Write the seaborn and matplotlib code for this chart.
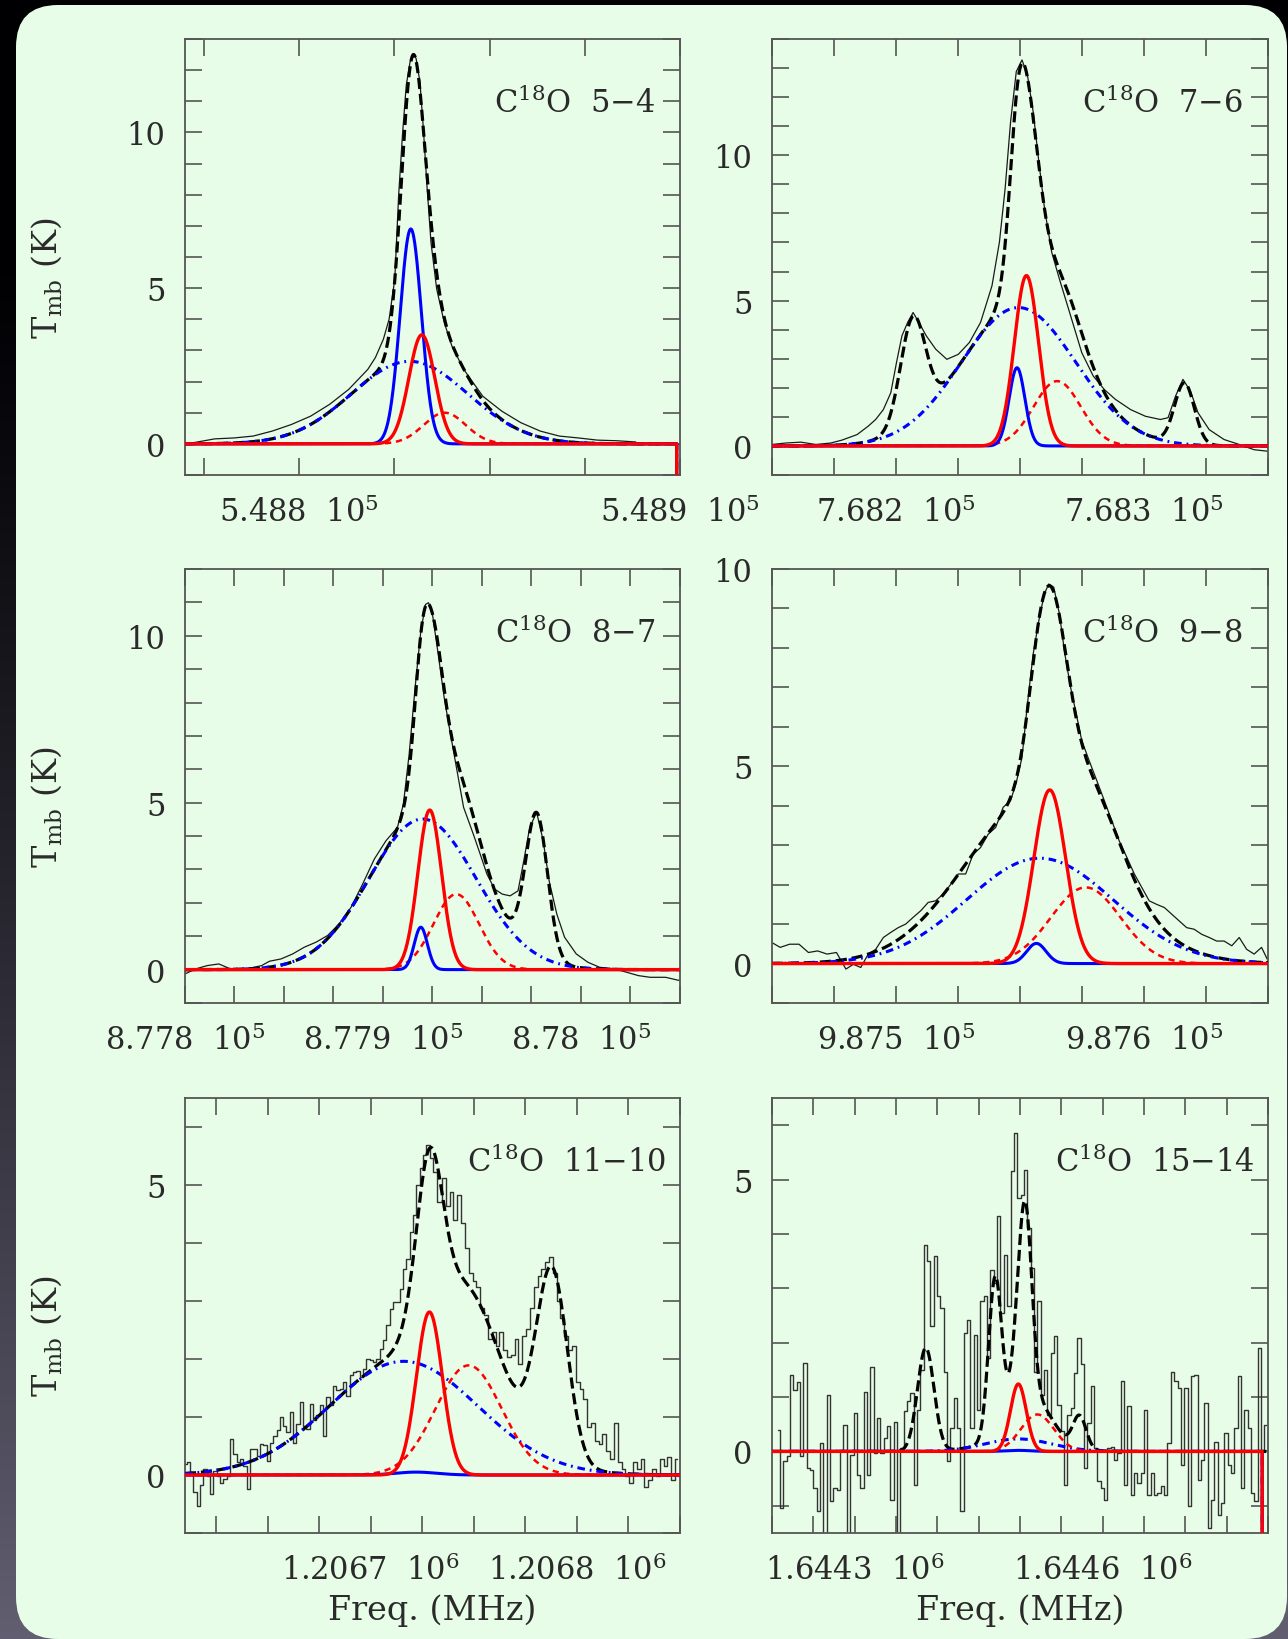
import numpy as np
import matplotlib
matplotlib.use("Agg")
import matplotlib.pyplot as plt
from matplotlib.patches import FancyBboxPatch
import seaborn as sns

# ---------------- observed spectra: frequency (MHz) and Tmb (K) ----------------
f54 = 548000 + np.array([770.0, 772.8, 777.8, 782.9, 787.9, 792.9, 797.9, 803.0, 808.0, 813.0,
                         818.0, 820.0, 822.1, 823.6, 825.1, 826.1, 827.1, 828.1, 829.1, 830.0,
                         830.7, 831.7, 832.6, 833.6, 834.6, 836.1, 838.1, 840.1, 843.2, 848.2,
                         853.2, 858.2, 863.3, 868.3, 873.3, 878.3, 883.4, 888.4])
t54 = [0.0, 0.05, 0.16, 0.19, 0.25, 0.41, 0.62, 0.89, 1.27, 1.75,
       2.39, 2.77, 3.36, 4.00, 5.29, 7.97, 9.90, 11.51, 12.26, 12.53,
       12.37, 11.62, 10.12, 8.19, 6.47, 4.97, 3.89, 3.14, 2.39, 1.53,
       1.05, 0.68, 0.41, 0.25, 0.19, 0.12, 0.10, 0.06]

f76 = 768000 + np.array([150.0, 155.6, 161.6, 167.7, 173.7, 178.2, 184.3, 188.8, 191.8, 194.9,
                         197.9, 200.2, 202.4, 204.7, 206.9, 209.2, 212.2, 216.0, 220.5, 225.1,
                         229.6, 234.1, 238.7, 241.7, 244.0, 246.2, 248.5, 250.8, 253.0, 255.3,
                         257.6, 259.9, 262.8, 265.9, 270.4, 274.9, 279.5, 284.0, 288.5, 294.6,
                         300.6, 306.6, 309.7, 312.7, 315.7, 318.7, 321.8, 326.3, 332.3, 338.4,
                         344.4, 349.7])
t76 = [0.05, 0.10, 0.13, 0.05, 0.10, 0.20, 0.39, 0.68, 0.91, 1.25,
       1.83, 2.87, 3.79, 4.25, 4.59, 4.25, 3.79, 3.33, 2.98, 3.15,
       3.56, 4.25, 5.51, 7.01, 8.85, 11.15, 12.88, 13.28, 12.76, 11.50,
       9.77, 8.16, 6.66, 5.74, 4.48, 3.21, 2.41, 1.94, 1.60, 1.25,
       1.02, 0.91, 0.97, 1.71, 2.29, 1.89, 1.14, 0.56, 0.22, 0.05,
       -0.13, -0.18]

f87 = 877000 + np.array([800.0, 805.3, 811.2, 817.1, 823.0, 830.8, 838.7, 842.6, 848.5, 854.4,
                         860.2, 866.1, 872.0, 877.9, 883.8, 889.7, 895.6, 901.5, 907.3, 910.3,
                         913.2, 916.2, 919.1, 921.5, 923.0, 925.0, 927.9, 930.9, 933.8, 936.8,
                         940.7, 945.6, 948.5, 952.5, 956.4, 960.3, 964.2, 968.2, 971.1, 974.1,
                         977.6, 980.9, 983.9, 987.8, 991.7, 997.6, 1003.5, 1009.4, 1017.2, 1023.1,
                         1029.0, 1034.9, 1042.7, 1050.0])
t87 = [-0.13, 0.02, 0.12, 0.17, 0.02, 0.02, 0.12, 0.25, 0.32, 0.47,
       0.67, 0.82, 1.02, 1.37, 1.86, 2.56, 3.31, 3.86, 4.26, 4.96,
       6.45, 8.44, 10.14, 10.94, 10.99, 10.64, 9.44, 8.15, 7.15, 6.15,
       4.86, 4.06, 3.56, 2.86, 2.41, 2.26, 2.21, 2.36, 3.26, 4.26,
       4.71, 3.86, 2.66, 1.66, 0.97, 0.47, 0.22, 0.07, 0.02, -0.08,
       -0.18, -0.23, -0.23, -0.33]

f98 = 987000 + np.array([450.0, 453.3, 457.1, 460.9, 464.7, 468.4, 472.2, 476.0, 479.8, 482.8,
                         485.8, 488.8, 491.8, 494.9, 497.9, 500.9, 503.9, 506.9, 510.0, 513.0,
                         516.0, 519.0, 522.1, 525.1, 528.1, 531.1, 534.1, 537.2, 540.2, 543.2,
                         546.2, 548.5, 550.8, 553.0, 555.3, 557.6, 559.8, 561.6, 563.6, 565.9,
                         568.1, 570.4, 572.7, 574.9, 577.9, 581.0, 584.0, 587.0, 590.0, 593.1,
                         596.1, 599.1, 602.1, 605.1, 608.2, 611.2, 614.2, 617.2, 620.2, 623.3,
                         626.3, 629.3, 632.3, 635.4, 638.4, 641.4, 644.4, 647.4, 649.7])
t98 = [0.53, 0.41, 0.49, 0.49, 0.28, 0.32, 0.24, 0.28, -0.14, -0.02,
       -0.10, 0.24, 0.36, 0.66, 0.79, 0.91, 1.00, 1.17, 1.34, 1.55,
       1.59, 1.76, 2.01, 2.27, 2.27, 2.77, 2.94, 3.28, 3.45, 3.96,
       4.13, 4.59, 5.22, 6.58, 7.84, 8.69, 9.37, 9.62, 9.54, 8.86,
       7.84, 7.00, 6.32, 5.65, 5.14, 4.63, 4.13, 3.62, 3.11, 2.69,
       2.27, 1.93, 1.59, 1.50, 1.42, 1.25, 1.08, 0.91, 0.87, 0.74,
       0.66, 0.57, 0.57, 0.45, 0.66, 0.36, 0.24, 0.41, 0.11]

# 11-10: two backend sub-bands with slightly different channel widths
f1110 = np.r_[np.linspace(1206610.0, 1206731.0, 76), np.linspace(1206733.7, 1206848.5, 63)]
t1110 = [0.19, 0.22, 0.05, -0.30, -0.53, -0.18, 0.10, -0.01, -0.33, 0.07,
         -0.01, -0.13, -0.07, -0.01, 0.62, 0.36, 0.22, 0.28, 0.16, -0.24,
         0.45, 0.45, 0.33, 0.54, 0.51, 0.25, 0.56, 0.68, 0.77, 1.00,
         0.85, 0.74, 1.08, 0.56, 0.88, 1.26, 0.85, 0.79, 1.23, 0.94,
         1.03, 1.20, 0.68, 1.34, 1.20, 1.54, 1.46, 1.49, 1.60, 1.37,
         1.72, 1.77, 1.80, 1.69, 1.83, 2.00, 1.98, 1.95, 2.00, 2.18,
         2.32, 2.58, 2.87, 2.98, 2.98, 3.21, 3.56, 3.73, 4.19, 4.48,
         5.00, 5.29, 5.52, 5.69, 5.46, 5.23,
         4.70, 5.12, 4.64, 4.88, 4.40, 4.82, 4.34, 3.91, 3.49, 3.34,
         3.25, 2.88, 2.76, 2.34, 2.46, 2.22, 2.46, 2.16, 2.04, 2.07,
         2.34, 1.92, 2.40, 2.52, 2.88, 3.25, 3.43, 3.55, 3.67, 3.76,
         3.49, 3.00, 2.70, 2.40, 2.16, 2.22, 1.61, 1.49, 1.31, 0.83,
         0.89, 0.59, 0.53, 0.71, 0.41, 0.28, 0.89, 0.22, 0.10, -0.02,
         -0.14, 0.22, 0.10, 0.28, -0.20, -0.08, 0.10, -0.02, 0.28, 0.16,
         0.31, -0.08, 0.28]

f1514 = np.linspace(1644207.7, 1644797.6, 147)
t1514 = [0.40, -1.04, -0.18, -0.09, 1.41, 1.13, 1.28, -0.09, 1.63, -0.31,
         -0.34, -0.67, -1.10, 0.15, -1.70, 1.04, -0.92, -0.67, -0.71, 0.03,
         0.49, -1.70, -0.06, 0.71, -0.43, -0.67, 1.10, -0.43, 1.56, -0.03,
         0.61, -0.03, 0.25, 0.46, -0.89, 0.55, -1.70, 0.06, 0.74, 0.92,
         1.07, -0.61, 0.77, 1.50, 3.80, 3.50, 2.30, 3.59, 2.85, 2.64,
         1.47, -0.18, 0.43, 0.98, 0.43, -1.10, 2.18, 2.42, 0.43, 2.15,
         0.77, 2.76, 2.85, 1.72, 3.34, 3.10, 4.33, 2.55, 3.62, 2.67,
         5.15, 5.86, 4.66, 4.72, 5.18,
         4.11, 3.37, 1.47, 2.76, 1.04, 1.50, 0.67, 1.81, 2.12, 0.86,
         0.37, -0.61, 0.67, 0.80, 1.44, 2.09, 1.60, -0.31, 0.52, 1.20,
         0.06, -0.55, -0.67, -0.89, 0.06, 0.09, -0.15, -0.03, 1.29, -0.61,
         0.83, -0.80, -0.40, -0.58, -0.40, 0.77, -0.80, -0.40, -0.80, -0.77,
         -0.64, -0.80, 0.15, 1.47, 1.29, 1.17, -0.25, 1.17, -1.01, 1.38,
         1.41, -0.52, -0.15, 0.89, -1.41, -0.89, 0.18, -1.17, -0.95, 0.34,
         -0.25, -0.40, 0.43, 1.38, -0.67, 0.77, 0.43, -0.77, -0.92, 1.90,
         0.03, 0.49]

transitions = ["5\u22124", "7\u22126", "8\u22127", "9\u22128", "11\u221210", "15\u221214"]

# ---------------- Gaussian components (amplitude K, centre MHz, FWHM MHz) ----------------
blue_narrow_amp = [6.9, 2.69, 1.27, 0.51, 0.05, 0.02]
blue_narrow_ctr = [548829.3, 768248.8, 877919.1, 987556.6, 1206722.0, 1644498.0]
blue_narrow_fwhm = [6.6, 7.5, 7.8, 9.2, 23.5, 35.3]

red_narrow_amp = [3.5, 5.86, 4.78, 4.40, 2.81, 1.24]
red_narrow_ctr = [548832.2, 768252.6, 877923.6, 987562.0, 1206728.5, 1644498.0]
red_narrow_fwhm = [8.0, 11.5, 14.1, 15.1, 14.8, 22.6]

blue_broad_amp = [2.65, 4.76, 4.51, 2.67, 1.96, 0.23]
blue_broad_ctr = [548829.0, 768249.4, 877920.0, 987558.0, 1206716.0, 1644498.0]
blue_broad_fwhm = [36.0, 54.2, 63.6, 69.5, 84.8, 94.2]

red_broad_amp = [1.0, 2.23, 2.26, 1.93, 1.89, 0.68]
red_broad_ctr = [548838.2, 768265.0, 877937.0, 987576.5, 1206747.5, 1644521.0]
red_broad_fwhm = [13.0, 22.4, 27.1, 33.0, 37.7, 47.1]

# additional lines only included in the total fit
other_54 = []
other_76 = [(3.6, 768206.8, 11.8), (2.1, 768316.3, 9.4)]
other_87 = [(4.24, 877977.6, 13.0)]
other_98 = [(1.35, 987550.0, 58.9)]
other_1110 = [(3.25, 1206787.9, 17.7)]
other_1514 = [(1.9, 1644386.0, 23.5), (3.0, 1644470.0, 18.8), (3.0, 1644507.0, 18.8),
              (0.6, 1644572.0, 18.8)]

# last channel of the fit that is blanked (None = fit covers the whole window)
fit_edge = [548899.2, None, None, None, None, 1644793.0]
BLANK = -1000.0

# ---------------- axes ranges and ticks ----------------
xlims = [(548770, 548900), (768150, 768350), (877800, 878050),
         (987450, 987650), (1206610, 1206850), (1644200, 1644800)]
ylims = [(-1, 13), (-1, 14), (-1, 12), (-1, 10), (-1, 6.5), (-1.5, 6.5)]
xtick_step = [25, 25, 25, 25, 25, 50]
xtick_labelled = [[548800, 548900], [768200, 768300], [877800, 877900, 878000],
                  [987500, 987600], [1206700, 1206800], [1644300, 1644600]]
xtick_exp = [5, 5, 5, 5, 6, 6]
title_right = [0.949, 0.949, 0.949, 0.949, 0.972, 0.972]


def gauss(x, amp, ctr, fwhm):
    return amp * np.exp(-4.0 * np.log(2.0) * ((x - ctr) / fwhm) ** 2)


sns.set_theme(style="ticks")
plt.rcParams.update({
    "font.family": ["DejaVu Serif"],
    "mathtext.fontset": "dejavuserif",
    "lines.scale_dashes": False,
    "text.color": "#222222",
})

W, H = 1288, 1640
fig = plt.figure(figsize=(W / 100, H / 100), dpi=100)
fig.patch.set_facecolor("black")

# backdrop and rounded card
bg = fig.add_axes([0, 0, 1, 1], zorder=-10)
bg.set_xlim(0, W)
bg.set_ylim(H, 0)
bg.axis("off")
ramp = np.clip((np.linspace(0, 1, 256) - 0.15) / 0.85, 0, 1) ** 1.2
c_top = np.array([0.0, 0.0, 0.01])
c_bot = np.array([0.38, 0.37, 0.44])
img = c_top[None, None, :] + ramp[:, None, None] * (c_bot - c_top)[None, None, :]
bg.imshow(img, extent=(0, W, H, 0), aspect="auto", interpolation="bilinear")
bg.add_patch(FancyBboxPatch((16, 6), 1271, 1634, boxstyle="round,pad=0,rounding_size=42",
                            fc="#e8fde8", ec="none"))

col_l, col_r = [185, 772], [680, 1268]
row_t, row_b = [40, 570, 1099], [476, 1004, 1534]

spectra = [(f54, t54, False), (f76, t76, False), (f87, t87, False),
           (f98, t98, False), (f1110, t1110, True), (f1514, t1514, True)]
others = [other_54, other_76, other_87, other_98, other_1110, other_1514]

axis_col = "#555555"
label_col = "#2a2a2a"

for i in range(6):
    r, c = divmod(i, 2)
    l, rr, t, b = col_l[c], col_r[c], row_t[r], row_b[r]
    ax = fig.add_axes([l / W, 1 - b / H, (rr - l) / W, (b - t) / H])
    ax.patch.set_alpha(0)
    x0, x1 = xlims[i]

    # observed spectrum
    fx, ty, steps = spectra[i]
    kw = {"drawstyle": "steps-mid"} if steps else {}
    sns.lineplot(x=fx, y=np.asarray(ty), ax=ax, color="#1a1a1a" if not steps else "#333333",
                 linewidth=0.9 if not steps else 1.0, estimator=None, sort=False, zorder=2, **kw)

    # fit grids
    xg = np.linspace(x0, x1, 2000)
    edge = fit_edge[i]
    xe = np.append(np.linspace(x0, edge - 0.05, 2000), edge) if edge else xg

    def comp(x, a, cc, w):
        y = gauss(x, a, cc, w)
        if edge:
            y[-1] = BLANK
        return y

    bn = (blue_narrow_amp[i], blue_narrow_ctr[i], blue_narrow_fwhm[i])
    rn = (red_narrow_amp[i], red_narrow_ctr[i], red_narrow_fwhm[i])
    bb = (blue_broad_amp[i], blue_broad_ctr[i], blue_broad_fwhm[i])
    rb = (red_broad_amp[i], red_broad_ctr[i], red_broad_fwhm[i])

    total = gauss(xg, *bn) + gauss(xg, *rn) + gauss(xg, *bb) + gauss(xg, *rb)
    for p in others[i]:
        total = total + gauss(xg, *p)

    sns.lineplot(x=xg, y=total, ax=ax, color="black", linewidth=2.3,
                 linestyle=(0, (8, 3.5)), estimator=None, sort=False, zorder=3)
    sns.lineplot(x=xe, y=comp(xe, *bb), ax=ax, color="#0000ff", linewidth=2.2,
                 linestyle=(0, (5.5, 3.5, 1.3, 3.5)), estimator=None, sort=False, zorder=4)
    sns.lineplot(x=xe, y=comp(xe, *rb), ax=ax, color="#ff0000", linewidth=1.8,
                 linestyle=(0, (4.5, 3.5)), estimator=None, sort=False, zorder=5)
    sns.lineplot(x=xe, y=comp(xe, *bn), ax=ax, color="#0000ff", linewidth=2.2,
                 estimator=None, sort=False, zorder=6)
    sns.lineplot(x=xe, y=comp(xe, *rn), ax=ax, color="#ff0000", linewidth=2.4,
                 estimator=None, sort=False, zorder=7)

    ax.set_xlim(x0, x1)
    ax.set_ylim(*ylims[i])

    # ticks
    step = xtick_step[i]
    xt = np.arange(np.ceil(x0 / step) * step, x1 + 0.01, step)
    e = xtick_exp[i]
    xl = [(f"{v / 10 ** e:g}  " + r"$\mathregular{10^{%d}}$" % e) if int(round(v)) in xtick_labelled[i] else ""
          for v in xt]
    ax.set_xticks(xt)
    ax.set_xticklabels(xl)
    y0, y1 = ylims[i]
    yt = np.arange(np.ceil(y0), np.floor(y1) + 1)
    ax.set_yticks(yt)
    ax.set_yticklabels([f"{int(v)}" if int(v) % 5 == 0 else "" for v in yt])

    for sp in ax.spines.values():
        sp.set_color(axis_col)
        sp.set_linewidth(1.3)
    ax.tick_params(which="both", direction="in", top=True, right=True, length=12, width=1.2,
                   color=axis_col, labelsize=22, labelcolor=label_col)
    ax.tick_params(axis="x", pad=15)
    ax.tick_params(axis="y", pad=14)
    ax.set_xlabel("")
    ax.set_ylabel("")

    # transition name
    ax.text(title_right[i], 1 - 73 / (b - t),
            r"C$^{\mathregular{18}}$O  " + transitions[i],
            transform=ax.transAxes, ha="right", va="baseline", fontsize=22, color=label_col)

    if c == 0:
        fig.text(47 / W, 1 - ((t + b) / 2 + 20) / H, r"T$_{\mathregular{mb}}$ (K)",
                 rotation=90, ha="center", va="center", fontsize=24, color=label_col)
    if r == 2:
        fig.text(((l + rr) / 2) / W, 1 - 1611 / H, "Freq. (MHz)",
                 ha="center", va="center", fontsize=24, color=label_col)

fig.savefig("out.png", dpi=100, facecolor=fig.get_facecolor())
